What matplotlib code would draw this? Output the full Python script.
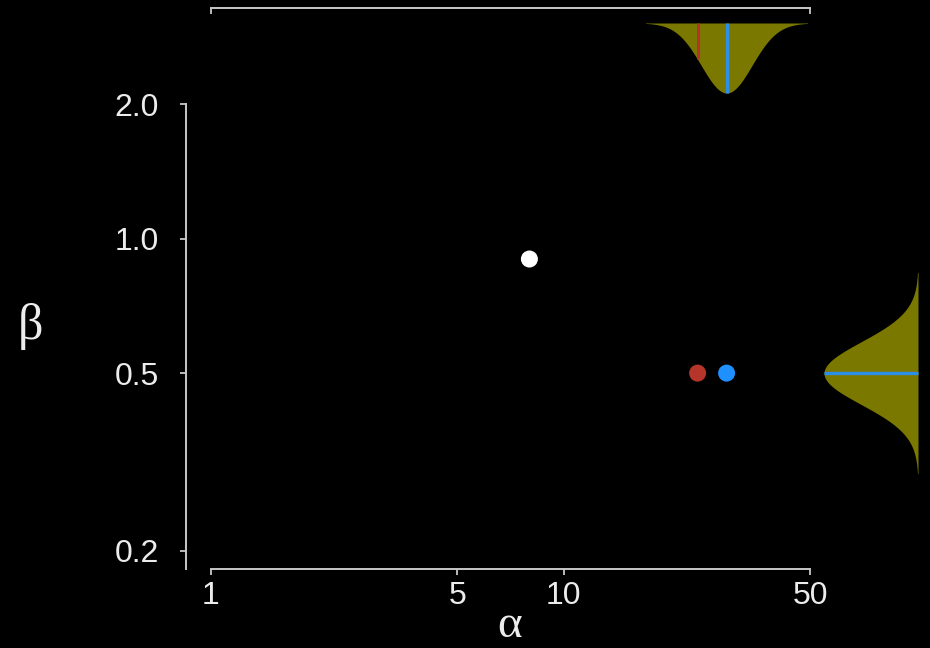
import numpy as np
import matplotlib
matplotlib.use('Agg')
import matplotlib.pyplot as plt
from matplotlib.ticker import NullLocator, FixedLocator, FixedFormatter

# ---- data ----
x_ticks = [1, 5, 10, 50]
x_tick_labels = ['1', '5', '10', '50']
y_ticks = [0.2, 0.5, 1.0, 2.0]
y_tick_labels = ['0.2', '0.5', '1.0', '2.0']

point_alpha = [8.0, 24.0, 29.0]
point_beta = [0.9, 0.5, 0.5]
point_colors = ['#ffffff', '#b5352b', '#1e90ff']

alpha_center = 29.0          # mode of alpha marginal (blue line)
alpha_marker = 24.0          # red line position
alpha_sd_log10 = 0.072
alpha_half_range = 0.23

beta_center = 0.5
beta_sd_log10 = 0.07
beta_half_range = 0.225

# ---- style ----
W, H = 930, 648
PT = 72 / 100  # points per pixel
AXC = '#c8c8c8'
TXT = '#ececec'
FILL = '#7b7800'
RED = '#b5352b'
BLUE = '#2b8fe8'

plt.rcParams['font.family'] = ['Liberation Sans', 'DejaVu Sans']

fig = plt.figure(figsize=(W / 100, H / 100), dpi=100, facecolor='black')


def px_rect(x0, y0, x1, y1):
    return [x0 / W, 1 - y1 / H, (x1 - x0) / W, (y1 - y0) / H]


# main axes
ylow = 2.0 * 10 ** (-(569 - 104) / 447)
ax = fig.add_axes(px_rect(211, 104, 810, 569))
ax.set_facecolor('black')
ax.set_xscale('log')
ax.set_yscale('log')
ax.set_xlim(1, 50)
ax.set_ylim(ylow, 2.0)
for s in ['top', 'right']:
    ax.spines[s].set_visible(False)
ax.spines['left'].set_position(('outward', 25 * PT))
ax.spines['left'].set_bounds(ylow, 2.0)
ax.spines['bottom'].set_bounds(1, 50)
for s in ['left', 'bottom']:
    ax.spines[s].set_color(AXC)
    ax.spines[s].set_linewidth(1.4)
ax.xaxis.set_major_locator(FixedLocator(x_ticks))
ax.xaxis.set_major_formatter(FixedFormatter(x_tick_labels))
ax.yaxis.set_major_locator(FixedLocator(y_ticks))
ax.yaxis.set_major_formatter(FixedFormatter(y_tick_labels))
ax.xaxis.set_minor_locator(NullLocator())
ax.yaxis.set_minor_locator(NullLocator())
ax.tick_params(axis='x', length=6 * PT, width=1.3, color=AXC, labelcolor=TXT,
               labelsize=23, pad=6 * PT)
ax.tick_params(axis='y', length=6 * PT, width=1.3, color=AXC, labelcolor=TXT,
               labelsize=23, pad=21 * PT)

ax.scatter(point_alpha, point_beta, s=150, c=point_colors,
           edgecolors='none', zorder=3)

# top marginal (alpha)
axt = fig.add_axes(px_rect(211, 8, 810, 100))
axt.set_facecolor('none')
axt.set_xscale('log')
axt.set_xlim(1, 50)
axt.set_ylim(77 / 70, -15 / 70)
for s in ['bottom', 'left', 'right']:
    axt.spines[s].set_visible(False)
axt.spines['top'].set_color(AXC)
axt.spines['top'].set_linewidth(1.4)
axt.spines['top'].set_bounds(1, 50)
axt.xaxis.tick_top()
axt.xaxis.set_major_locator(FixedLocator([1, 50]))
axt.xaxis.set_minor_locator(NullLocator())
axt.tick_params(axis='x', direction='in', length=6 * PT, width=1.3, color=AXC,
                labeltop=False, labelbottom=False)
axt.set_yticks([])

la = np.log10(alpha_center)
ta = np.linspace(la - alpha_half_range, la + alpha_half_range, 400)
da = np.exp(-0.5 * ((ta - la) / alpha_sd_log10) ** 2)
axt.fill_between(10 ** ta, 0, da, color=FILL, linewidth=0)
d_red = np.exp(-0.5 * ((np.log10(alpha_marker) - la) / alpha_sd_log10) ** 2)
axt.vlines(alpha_marker, 0, d_red, color=RED, lw=2.2)
axt.vlines(alpha_center, 0, 1, color=BLUE, lw=2.4)

# right marginal (beta)
axr = fig.add_axes(px_rect(818, 104, 925, 569))
axr.set_facecolor('none')
axr.set_yscale('log')
axr.set_ylim(ylow, 2.0)
axr.set_xlim(100 / 94, -7 / 94)
for s in axr.spines.values():
    s.set_visible(False)
axr.set_xticks([])
axr.yaxis.set_major_locator(NullLocator())
axr.yaxis.set_minor_locator(NullLocator())

lb = np.log10(beta_center)
tb = np.linspace(lb - beta_half_range, lb + beta_half_range, 400)
db = np.exp(-0.5 * ((tb - lb) / beta_sd_log10) ** 2)
axr.fill_betweenx(10 ** tb, 0, db, color=FILL, linewidth=0)
axr.hlines(beta_center, 0, 1, color=BLUE, lw=2.4)

# axis labels
fig.text(510 / W, 1 - 626 / H, 'α', ha='center', va='center',
         family=['Liberation Serif', 'DejaVu Serif'], size=34, color=TXT)
fig.text(30 / W, 1 - 326 / H, 'β', ha='center', va='center',
         family=['Liberation Serif', 'DejaVu Serif'], size=36, color=TXT)

fig.savefig('out.png', dpi=100, facecolor='black')
